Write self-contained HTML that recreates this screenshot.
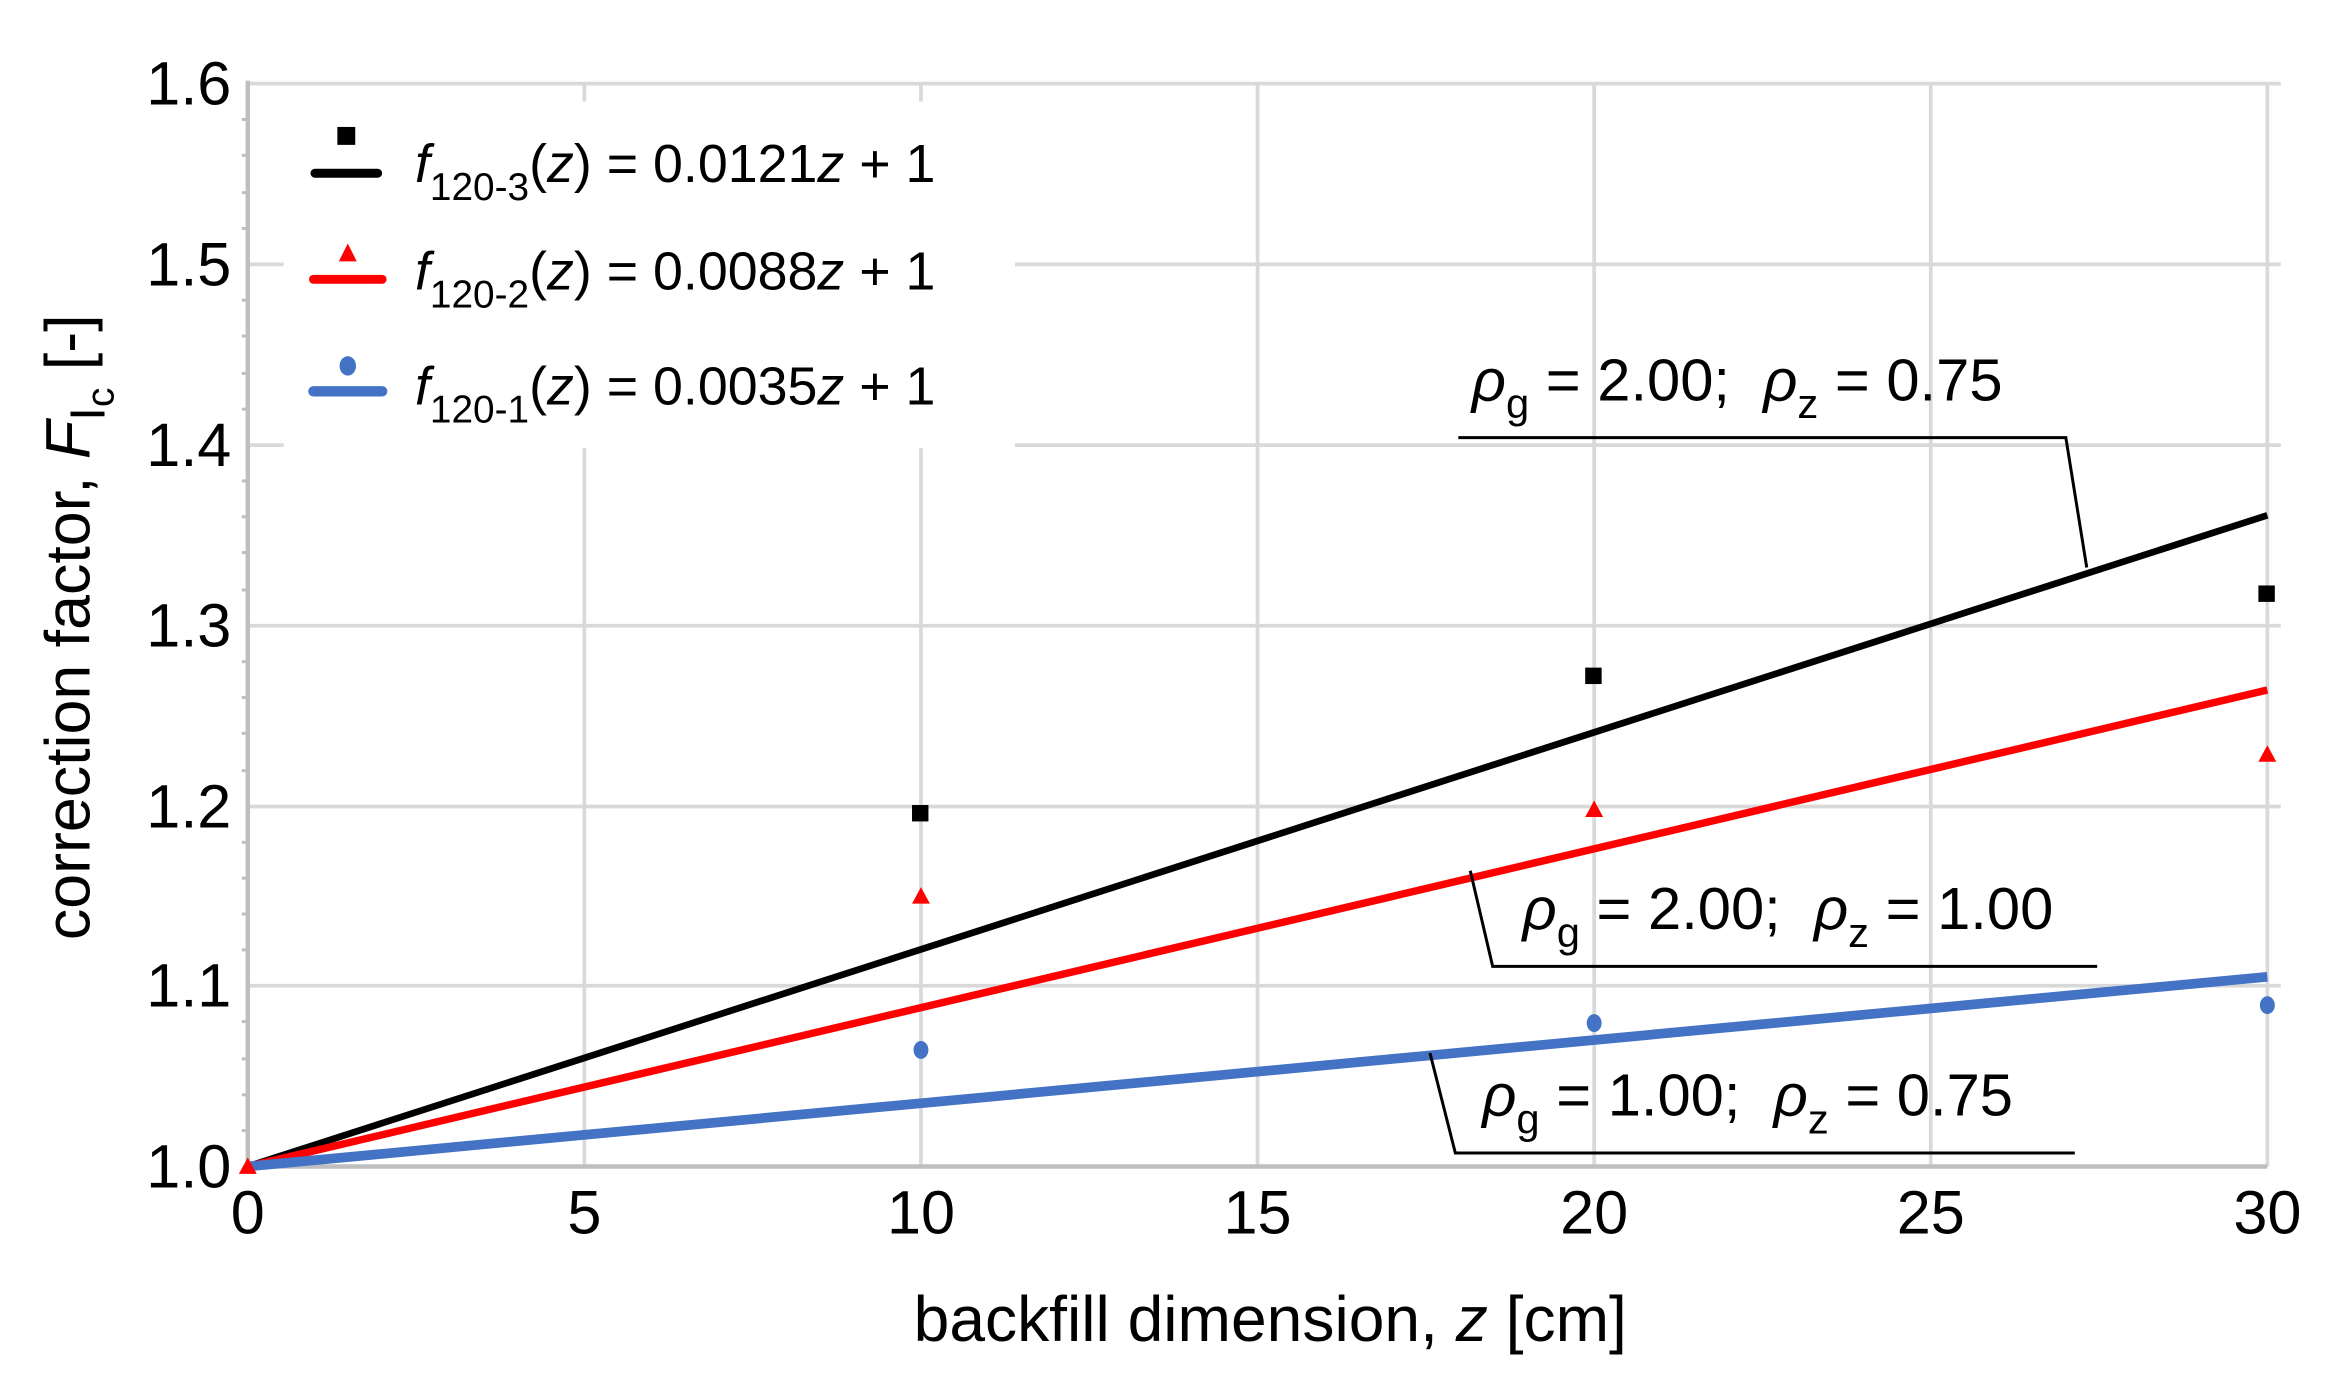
<!DOCTYPE html>
<html><head><meta charset="utf-8"><style>html,body{margin:0;padding:0;background:#fff}svg{display:block}</style></head>
<body>
<svg width="2339" height="1389" viewBox="0 0 1567 930" preserveAspectRatio="none" xmlns="http://www.w3.org/2000/svg" font-family="Liberation Sans, Arial, sans-serif">
<rect width="1580" height="940" fill="#fff"/>
<g stroke="#d9d9d9" stroke-width="2.5">
<line x1="166" y1="56" x2="1528" y2="56"/><line x1="166" y1="177" x2="1528" y2="177"/><line x1="166" y1="298" x2="1528" y2="298"/><line x1="166" y1="419" x2="1528" y2="419"/><line x1="166" y1="540" x2="1528" y2="540"/><line x1="166" y1="660" x2="1528" y2="660"/>
<line x1="391.5" y1="56" x2="391.5" y2="781"/><line x1="617" y1="56" x2="617" y2="781"/><line x1="842.5" y1="56" x2="842.5" y2="781"/><line x1="1068" y1="56" x2="1068" y2="781"/><line x1="1293.5" y1="56" x2="1293.5" y2="781"/><line x1="1519" y1="56" x2="1519" y2="781"/>
</g>
<g stroke="#bfbfbf" stroke-width="3"><line x1="166" y1="54" x2="166" y2="783"/><line x1="166" y1="781" x2="1519" y2="781"/></g>
<g stroke="#bfbfbf" stroke-width="2">
<line x1="162" y1="80" x2="166" y2="80"/><line x1="162" y1="104" x2="166" y2="104"/><line x1="162" y1="129" x2="166" y2="129"/><line x1="162" y1="153" x2="166" y2="153"/>
<line x1="162" y1="201" x2="166" y2="201"/><line x1="162" y1="225" x2="166" y2="225"/><line x1="162" y1="250" x2="166" y2="250"/><line x1="162" y1="274" x2="166" y2="274"/>
<line x1="162" y1="322" x2="166" y2="322"/><line x1="162" y1="346" x2="166" y2="346"/><line x1="162" y1="370" x2="166" y2="370"/><line x1="162" y1="395" x2="166" y2="395"/>
<line x1="162" y1="443" x2="166" y2="443"/><line x1="162" y1="467" x2="166" y2="467"/><line x1="162" y1="491" x2="166" y2="491"/><line x1="162" y1="516" x2="166" y2="516"/>
<line x1="162" y1="564" x2="166" y2="564"/><line x1="162" y1="588" x2="166" y2="588"/><line x1="162" y1="612" x2="166" y2="612"/><line x1="162" y1="636" x2="166" y2="636"/>
<line x1="162" y1="684" x2="166" y2="684"/><line x1="162" y1="709" x2="166" y2="709"/><line x1="162" y1="733" x2="166" y2="733"/><line x1="162" y1="757" x2="166" y2="757"/>
</g>
<rect x="190" y="68" width="490" height="232" fill="#fff"/>
<line x1="166" y1="781" x2="1519" y2="345" stroke="#000" stroke-width="4.5"/>
<line x1="166" y1="781" x2="1519" y2="462" stroke="#ff0000" stroke-width="5"/>
<line x1="166" y1="781" x2="1519" y2="654" stroke="#4472c4" stroke-width="6.5"/>
<g fill="#000"><rect x="611" y="539" width="11" height="11"/><rect x="1062" y="447" width="11" height="11"/><rect x="1513" y="392" width="11" height="11"/></g>
<g fill="#ff0000"><polygon points="617,594 611,605 623,605"/><polygon points="1068,536 1062,547 1074,547"/><polygon points="1519,499 1513,510 1525,510"/><polygon points="166,775 160,786 172,786"/></g>
<g fill="#4472c4"><ellipse cx="617" cy="703" rx="5" ry="6"/><ellipse cx="1068" cy="685" rx="5" ry="6"/><ellipse cx="1519" cy="673" rx="5" ry="6"/></g>
<rect x="226" y="85" width="12" height="12" fill="#000"/>
<line x1="211" y1="116" x2="253" y2="116" stroke="#000" stroke-width="6" stroke-linecap="round"/>
<polygon points="233,163 227,175 239,175" fill="#ff0000"/>
<line x1="210" y1="187" x2="256" y2="187" stroke="#ff0000" stroke-width="6" stroke-linecap="round"/>
<ellipse cx="233" cy="245" rx="5.5" ry="6.5" fill="#4472c4"/>
<line x1="210" y1="262" x2="256" y2="262" stroke="#4472c4" stroke-width="7" stroke-linecap="round"/>
<g font-size="36" fill="#000">
<text x="278" y="122"><tspan font-style="italic">f</tspan><tspan font-size="26" dy="12">120-3</tspan><tspan dy="-12">(</tspan><tspan font-style="italic">z</tspan>) = 0.0121<tspan font-style="italic">z</tspan> + 1</text>
<text x="278" y="194"><tspan font-style="italic">f</tspan><tspan font-size="26" dy="12">120-2</tspan><tspan dy="-12">(</tspan><tspan font-style="italic">z</tspan>) = 0.0088<tspan font-style="italic">z</tspan> + 1</text>
<text x="278" y="271"><tspan font-style="italic">f</tspan><tspan font-size="26" dy="12">120-1</tspan><tspan dy="-12">(</tspan><tspan font-style="italic">z</tspan>) = 0.0035<tspan font-style="italic">z</tspan> + 1</text>
</g>
<g stroke="#000" stroke-width="2" fill="none">
<polyline points="977,293 1384,293 1398,380"/>
<polyline points="985,583 1000,647 1405,647"/>
<polyline points="958,705 975,772 1390,772"/>
</g>
<g font-size="40" fill="#000">
<text x="986" y="268"><tspan font-style="italic">ρ</tspan><tspan font-size="28" dy="12">g</tspan><tspan dy="-12"> = 2.00;&#160;&#160;</tspan><tspan font-style="italic">ρ</tspan><tspan font-size="28" dy="12">z</tspan><tspan dy="-12"> = 0.75</tspan></text>
<text x="1020" y="622"><tspan font-style="italic">ρ</tspan><tspan font-size="28" dy="12">g</tspan><tspan dy="-12"> = 2.00;&#160;&#160;</tspan><tspan font-style="italic">ρ</tspan><tspan font-size="28" dy="12">z</tspan><tspan dy="-12"> = 1.00</tspan></text>
<text x="993" y="747"><tspan font-style="italic">ρ</tspan><tspan font-size="28" dy="12">g</tspan><tspan dy="-12"> = 1.00;&#160;&#160;</tspan><tspan font-style="italic">ρ</tspan><tspan font-size="28" dy="12">z</tspan><tspan dy="-12"> = 0.75</tspan></text>
</g>
<g font-size="41" fill="#000" text-anchor="end">
<text x="155" y="70">1.6</text><text x="155" y="191">1.5</text><text x="155" y="312">1.4</text><text x="155" y="433">1.3</text><text x="155" y="554">1.2</text><text x="155" y="674">1.1</text><text x="155" y="795">1.0</text>
</g>
<g font-size="41" fill="#000" text-anchor="middle">
<text x="166" y="826">0</text><text x="391.5" y="826">5</text><text x="617" y="826">10</text><text x="842.5" y="826">15</text><text x="1068" y="826">20</text><text x="1293.5" y="826">25</text><text x="1519" y="826">30</text>
</g>
<text x="851" y="898" font-size="43" text-anchor="middle">backfill dimension, <tspan font-style="italic">z</tspan> [cm]</text>
<text transform="translate(60,420) rotate(-90)" font-size="42" text-anchor="middle">correction factor, <tspan font-style="italic">F</tspan><tspan font-size="33" dy="10">I</tspan><tspan font-size="26" dy="6">c</tspan><tspan dy="-16"> [-]</tspan></text>
</svg>
</body></html>
